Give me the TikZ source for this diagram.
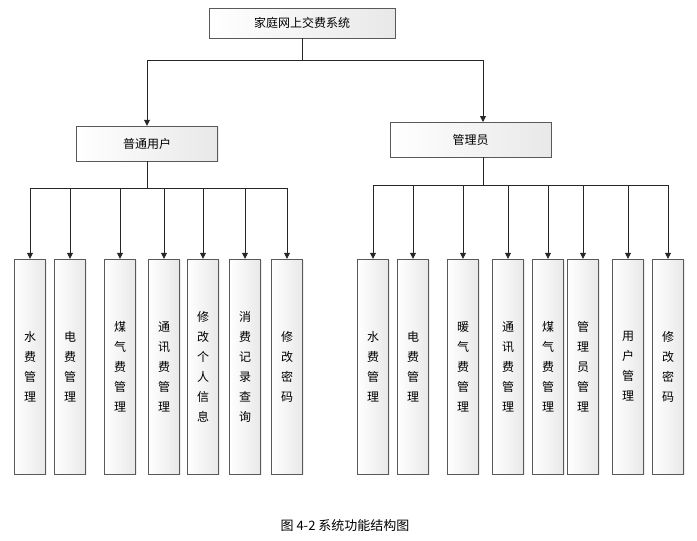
\documentclass[tikz,border=0pt]{standalone}
\usepackage{fontspec}
\newfontfamily\cjk{Noto Sans CJK SC}
\usetikzlibrary{positioning,arrows.meta,shadows}

\begin{document}
\begin{tikzpicture}[x=1pt,y=-1pt,
    box/.style={draw=gray!70!black, left color=white, right color=gray!18, font=\cjk\fontsize{12}{14}\selectfont, inner sep=0pt, drop shadow={opacity=0.15, shadow xshift=1pt, shadow yshift=-1pt}},
    leaf/.style={box, minimum width=31pt, minimum height=215pt, align=center, font=\cjk\fontsize{12}{20}\selectfont},
    link/.style={draw=gray!30!black, line width=0.8pt},
    arr/.style={link, -{Triangle[length=6pt,width=6pt]}}]
    \useasboundingbox (0,0) rectangle (697,541);

    % top levels
    \node[box, minimum width=186pt, minimum height=30pt] (root) at (302,23) {家庭网上交费系统};
    \node[box, minimum width=141pt, minimum height=35pt] (user) at (147,143.5) {普通用户};
    \node[box, minimum width=161pt, minimum height=35pt] (admin) at (470.5,139.5) {管理员};

    \coordinate (rb) at (302,60);
    \draw[link] (root.south) -- (rb);
    \draw[arr] (rb) -| (user.north);
    \draw[arr] (rb) -| (483,122);

    % user functions
    \coordinate (ub) at (147,188);
    \draw[link] (user.south) -- (ub);
    \draw[link] (30,188) -- (287,188);
    \foreach \x/\t [count=\k] in {30/水\\费\\管\\理, 70/电\\费\\管\\理, 120/煤\\气\\费\\管\\理,
        164/通\\讯\\费\\管\\理, 203/修\\改\\个\\人\\信\\息, 245/消\\费\\记\\录\\查\\询, 287/修\\改\\密\\码} {
        \node[leaf] (u\k) at (\x,366.5) {\t};
        \draw[arr] (\x,188) -- (u\k.north);
    }

    % admin functions
    \coordinate (ab) at (483,185);
    \draw[link] (483,157) -- (ab);
    \draw[link] (373,185) -- (668,185);
    \foreach \x/\t [count=\k] in {373/水\\费\\管\\理, 413/电\\费\\管\\理, 463/暖\\气\\费\\管\\理,
        508/通\\讯\\费\\管\\理, 548/煤\\气\\费\\管\\理, 583/管\\理\\员\\管\\理, 628/用\\户\\管\\理, 668/修\\改\\密\\码} {
        \node[leaf] (a\k) at (\x,366.5) {\t};
        \draw[arr] (\x,185) -- (a\k.north);
    }

    \node[font=\cjk\fontsize{13}{15}\selectfont] (cap) at (345,526) {图 4-2 系统功能结构图};
\end{tikzpicture}
\end{document}
